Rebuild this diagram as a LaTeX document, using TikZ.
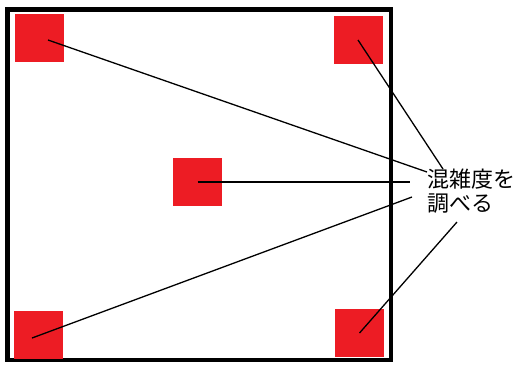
\documentclass[tikz,border=0pt]{standalone}
\usepackage{fontspec}
\usepackage{xcolor}
\usepackage{tikz}
\usetikzlibrary{positioning,calc}
\newfontfamily\cjk{Noto Sans CJK JP}
\definecolor{spotred}{HTML}{ED1C24}
\tikzset{
  spot/.style={rectangle, draw=none, fill=spotred, minimum width=49pt, minimum height=48pt, inner sep=0pt},
  frame/.style={draw=black, line width=4.6pt},
  pointer/.style={draw=black, line width=1.3pt},
  note/.style={align=left, inner sep=0pt, anchor=north west, font=\cjk\fontsize{22pt}{24pt}\selectfont},
}
\begin{document}
\begin{tikzpicture}[x=1pt,y=-1pt]
  \useasboundingbox (0,0) rectangle (518,368);
  \fill[white] (0,0) rectangle (518,368);
  \draw[frame] (7.5,9.5) rectangle (391,360);
  \node[spot] (nw) at (39.5,38) {};
  \node[spot] (ne) at (358,40) {};
  \node[spot] (mid) at (197.5,182) {};
  \node[spot] (sw) at (38,334.5) {};
  \node[spot] (se) at (359.5,333) {};
  \node[note] (chk) at (427,169) {混雑度を\\調べる};
  \coordinate (tnw) at (427,172); \coordinate (tne) at (443,169);
  \coordinate (tmid) at (410,182); \coordinate (tsw) at (412,197);
  \coordinate (tse) at (457,222);
  \draw[pointer] ([xshift=8.5pt,yshift=-2pt]nw.center)--(tnw);
  \draw[pointer] (ne.center)--(tne);
  \draw[pointer] (mid.center)--(tmid);
  \draw[pointer] ([xshift=-6pt,yshift=-3.5pt]sw.center)--(tsw);
  \draw[pointer] (se.center)--(tse);
\end{tikzpicture}
\end{document}
